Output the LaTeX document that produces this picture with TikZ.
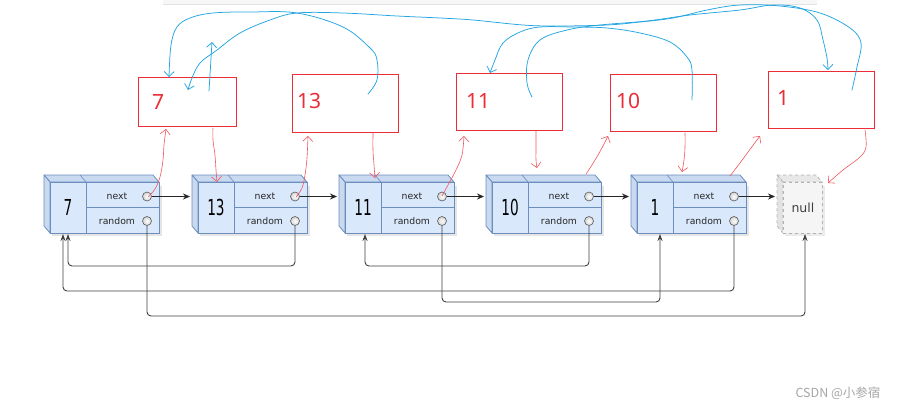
\documentclass[tikz,border=0pt]{standalone}
\usepackage{fontspec}
\usepackage{graphicx}
\setmainfont{DejaVu Sans}
\newfontfamily\redfont{Noto Sans}
\newfontfamily\cjkfont{Noto Sans CJK SC}
\usetikzlibrary{arrows.meta}
\definecolor{nodefill}{HTML}{DAE8FC}
\definecolor{nodeside}{HTML}{C8D9F0}
\definecolor{nodeline}{HTML}{6C8EBF}
\definecolor{redink}{RGB}{236,45,55}
\definecolor{blueink}{RGB}{35,165,225}
\definecolor{nullfill}{HTML}{F5F5F5}
\newcommand\valfont{\fontsize{22}{22}\selectfont}
\newcommand\listnode[3]{%
  \fill[black,opacity=0.10] ({#2+2},186) rectangle ({#2+112},236);
  \filldraw[fill=nodeside, draw=nodeline, line width=0.8pt, line join=round] ({#2-6},175) -- ({#2+103},175) -- ({#2+109},182) -- (#2,182) -- cycle;
  \draw[nodeline, line width=0.6pt] ({#2+30},175) -- ({#2+36},182);
  \filldraw[fill=nodeside, draw=nodeline, line width=0.8pt, line join=round] ({#2-6},175) -- (#2,182) -- (#2,233) -- ({#2-6},226) -- cycle;
  \node[face, anchor=north west, minimum width=109pt, minimum height=51pt] (#1) at (#2,182) {};
  \node[face, anchor=north west, minimum width=36pt, minimum height=51pt, font=\valfont] (#1v) at (#2,182) {\raisebox{-2pt}{\scalebox{0.62}[1]{#3}}};
  \node[face, anchor=north west, minimum width=73pt, minimum height=25.5pt] (#1n) at ({#2+36},182) {};
  \node[face, anchor=north west, minimum width=73pt, minimum height=25.5pt] (#1r) at ({#2+36},207.5) {};
  \node[lbl] (#1nt) at ({#2+67},196.5) {next};
  \node[lbl] (#1rt) at ({#2+67},221) {random};
  \node[port] (#1nc) at ({#2+97},196.5) {};
  \node[port] (#1rc) at ({#2+97},221) {};
  \coordinate (#1in) at ({#2-8},196.5);
}
\begin{document}
\begin{tikzpicture}[x=1pt,y=-1pt,
  face/.style={draw=nodeline, fill=nodefill, line width=0.8pt, inner sep=0pt, outer sep=0pt},
  lbl/.style={font=\fontsize{9.3}{10}\selectfont, inner sep=0pt, text=black!85},
  port/.style={circle, draw=black!65, line width=0.6pt, inner color=white, outer color=gray!35, minimum size=9pt, inner sep=0pt},
  nextarrow/.style={draw=black!85, line width=0.9pt, -{Stealth[length=7pt,width=6pt]}},
  randarrow/.style={draw=black!75, line width=0.9pt, rounded corners=4pt, -{Stealth[length=7pt,width=5pt]}},
  copybox/.style={draw=redink, line width=1pt, inner sep=0pt, anchor=north west},
  redtxt/.style={text=redink, font=\redfont\fontsize{21}{21}\selectfont, inner sep=0pt, anchor=west},
  redhand/.style={draw=redink!80, line width=0.6pt, line cap=round, line join=round, -{Straight Barb[length=5pt,width=10pt]}},
  bluehand/.style={draw=blueink, line width=0.75pt, line cap=round, line join=round, -{Straight Barb[length=5pt,width=10pt]}},
  nullface/.style={draw=gray!60, dashed, fill=nullfill, line width=0.8pt, inner sep=0pt, font=\fontsize{12.5}{13}\selectfont, text=black!75}]
\useasboundingbox (0,0) rectangle (907,408);
\fill[white] (0,0) rectangle (907,408);
% faint strip at top
\fill[gray!6] (163,0) rectangle (817,4);
\draw[gray!22, line width=0.8pt] (163,4) -- (817,4);

% list nodes
\listnode{n7}{50}{7}
\listnode{n13}{198}{13}
\listnode{n11}{345}{11}
\listnode{n10}{492}{10}
\listnode{n1}{637}{1}

% null node
\fill[black,opacity=0.08] (785,186) rectangle (825,236);
\filldraw[fill=gray!18, draw=gray!60, dashed, line width=0.8pt] (777,175) -- (816,175) -- (822,182) -- (783,182) -- cycle;
\filldraw[fill=gray!22, draw=gray!60, dashed, line width=0.8pt] (777,175) -- (783,182) -- (783,233) -- (777,226) -- cycle;
\node[nullface, anchor=north west, minimum width=39pt, minimum height=51pt] (nnull) at (783,182) {null};
\coordinate (nullin) at (775,196.5);

% next pointers
\draw[nextarrow] (n7nc.east) -- (n13in);
\draw[nextarrow] (n13nc.east) -- (n11in);
\draw[nextarrow] (n11nc.east) -- (n10in);
\draw[nextarrow] (n10nc.east) -- (n1in);
\draw[nextarrow] (n1nc.east) -- (nullin);

% random pointers
\coordinate (r7) at (805,316);   \coordinate (nullb) at (805,234);
\coordinate (r13) at (68,266);   \coordinate (n7ba) at (68,234);
\coordinate (r1) at (63,291);    \coordinate (n7bb) at (63,234);
\coordinate (r11) at (660,302);  \coordinate (n1b) at (660,234);
\coordinate (r10) at (365,266);  \coordinate (n11b) at (365,234);
\draw[randarrow] (n7rc.south) |- (r7) -- (nullb);
\draw[randarrow] (n13rc.south) |- (r13) -- (n7ba);
\draw[randarrow] (n1rc.south) |- (r1) -- (n7bb);
\draw[randarrow] (n11rc.south) |- (r11) -- (n1b);
\draw[randarrow] (n10rc.south) |- (r10) -- (n11b);

% copied nodes (red boxes)
\node[copybox, minimum width=98pt, minimum height=49pt] (b7) at (138,77) {};
\node[copybox, minimum width=106pt, minimum height=58pt] (b13) at (292,74) {};
\node[copybox, minimum width=106pt, minimum height=57pt] (b11) at (456,73) {};
\node[copybox, minimum width=106pt, minimum height=57pt] (b10) at (610,74) {};
\node[copybox, minimum width=106pt, minimum height=57pt] (b1) at (768,71) {};
\node[redtxt] (t7) at (152,102) {7};
\node[redtxt] (t13) at (297,101) {13};
\node[redtxt] (t11) at (466,101) {11};
\node[redtxt] (t10) at (616,101) {10};
\node[redtxt] (t1) at (777,98) {1};

% red hand-drawn next arrows
\draw[redhand] plot[smooth, tension=0.6] coordinates {(148,197) (155,189) (160,177) (163,160) (164,145) (166,129)};
\draw[redhand] plot[smooth, tension=0.6] coordinates {(213,128) (213,140) (215,155) (216,170) (217,182)};
\draw[redhand] plot[smooth, tension=0.6] coordinates {(296,197) (302,188) (305,175) (307,158) (308,136)};
\draw[redhand] plot[smooth, tension=0.6] coordinates {(373,133) (373,150) (374,165) (375,178)};
\draw[redhand] plot[smooth, tension=0.6] coordinates {(442,196) (448,185) (456,170) (462,155) (464,136)};
\draw[redhand] plot[smooth, tension=0.6] coordinates {(536,131) (536,148) (536,160) (537,168)};
\draw[redhand] plot[smooth, tension=0.6] coordinates {(586,174) (592,165) (598,155) (604,144) (608,136)};
\draw[redhand] plot[smooth, tension=0.6] coordinates {(685,133) (685,148) (684,160) (682,172)};
\draw[redhand] plot[smooth, tension=0.6] coordinates {(730,176) (740,163) (751,148) (760,136)};
\draw[redhand] plot[smooth, tension=0.6] coordinates {(865,130) (866,147) (860,157) (843,170) (828,183)};

% blue hand-drawn random arrows
\draw[bluehand] plot[smooth, tension=0.6] coordinates {(368,94) (377,80) (377,60) (370,48) (343,27) (297,13) (250,12) (213,13) (190,18) (177,27) (171,45) (169,77)};
\draw[bluehand] plot[smooth, tension=0.6] coordinates {(852,90) (857,67) (861,43) (850,28) (820,13) (780,6) (740,5) (707,10) (673,18) (640,22) (607,25) (557,26) (523,25) (473,20) (440,18) (397,16) (343,13) (297,13) (270,20) (240,33) (217,50) (200,63) (192,78) (188,90)};
\draw[bluehand] plot[smooth, tension=0.6] coordinates {(532,97) (527,83) (528,60) (540,40) (567,30) (600,25) (647,21) (690,15) (740,10) (773,5) (800,8) (817,20) (823,40) (827,58) (828,70)};
\draw[bluehand] plot[smooth, tension=0.6] coordinates {(692,100) (692,70) (687,57) (670,42) (640,33) (607,28) (573,27) (540,27) (520,32) (503,43) (495,60) (490,73)};
\draw[bluehand] (209,91) -- (212,42);

% watermark
\node[font=\cjkfont\fontsize{12.5}{13}\selectfont, text=gray!70, inner sep=0pt] (wm) at (838,393) {CSDN @小参宿};
\end{tikzpicture}
\end{document}
